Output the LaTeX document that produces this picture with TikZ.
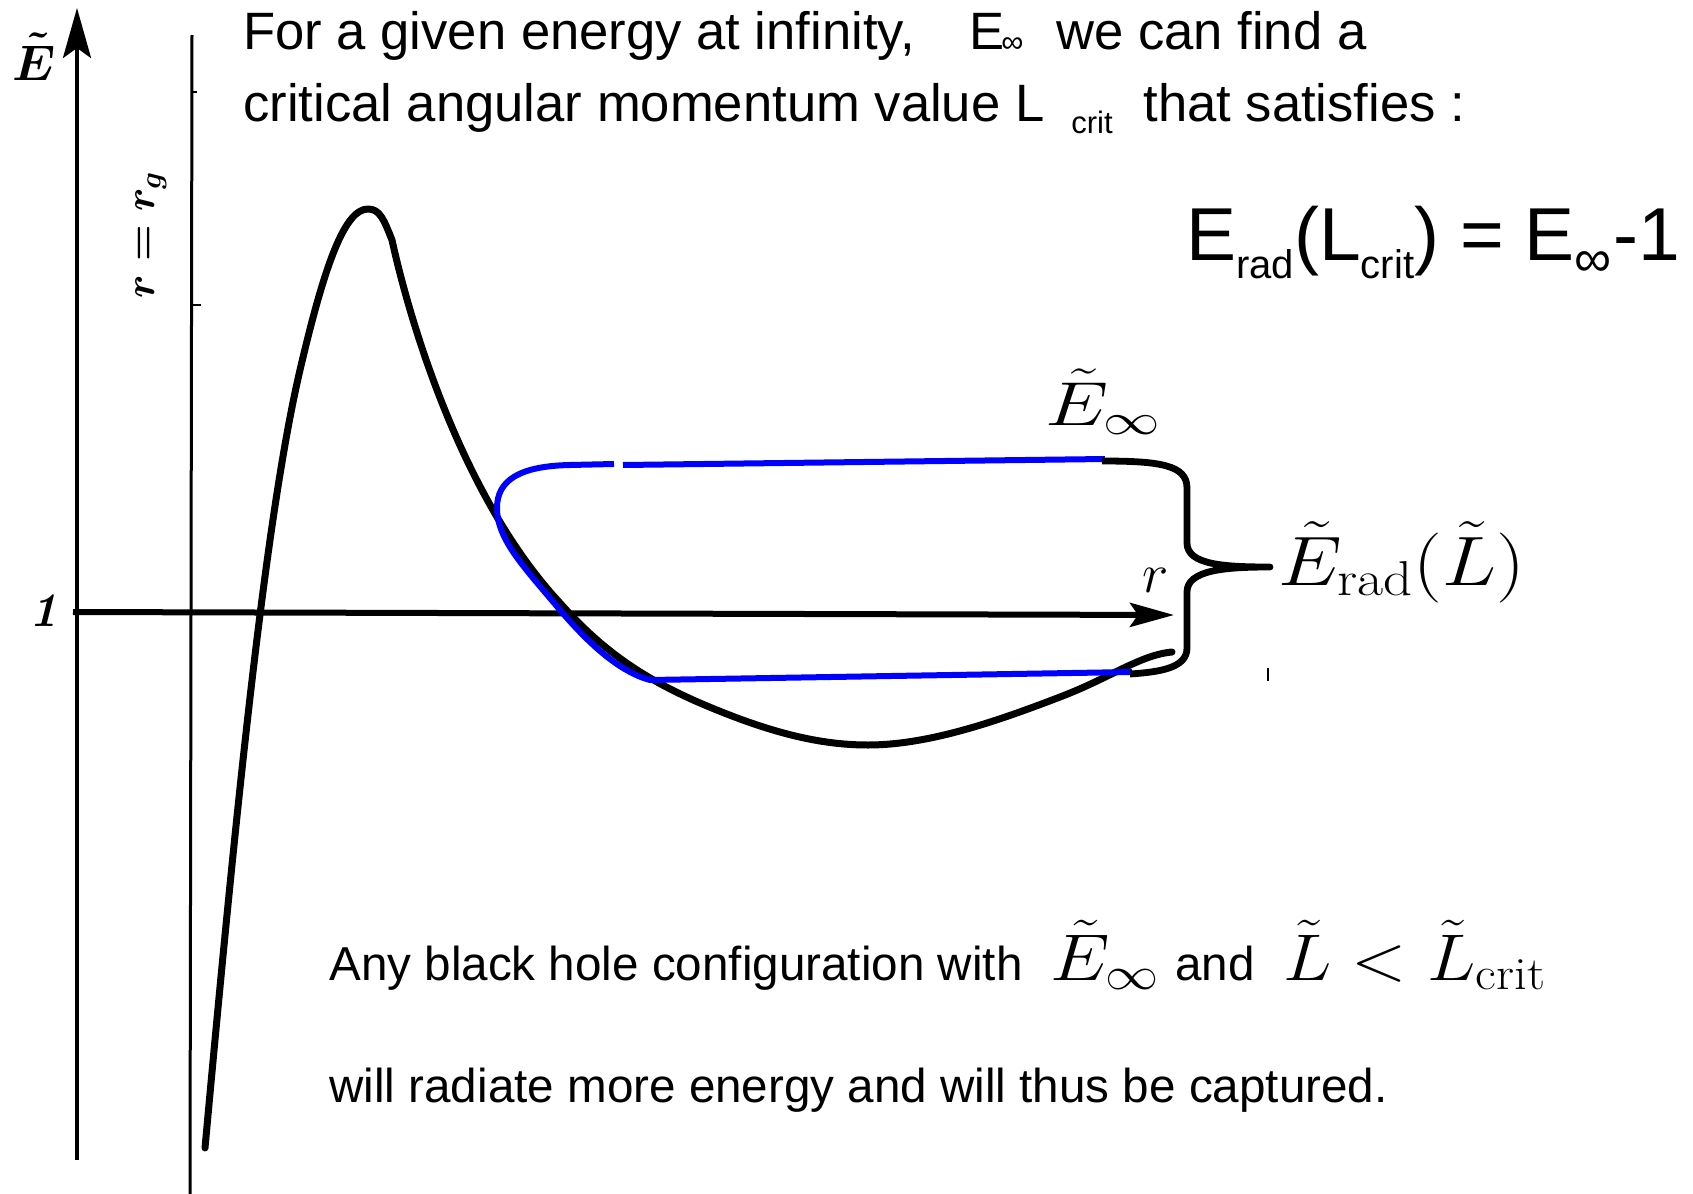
\RequirePackage{fix-cm}
\documentclass[tikz,border=0pt]{standalone}
\usepackage{amsmath}
\usepackage{fontspec}
\usepackage{graphicx}
\newfontfamily\hv{Liberation Sans}
\usetikzlibrary{arrows.meta}
\definecolor{curveblue}{RGB}{0,0,255}
\newcommand{\lowsub}[3]{\raisebox{-#1}{\fontsize{#2}{#2}\selectfont #3}}
\begin{document}
\begin{tikzpicture}[x=0.5pt,y=-0.5pt,
  txt/.style={inner sep=0pt, anchor=base west},
  toptxt/.style={txt, font=\hv\fontsize{26.3pt}{30pt}\selectfont},
  topsub/.style={txt, font=\hv\fontsize{15.5pt}{18pt}\selectfont},
  bottxt/.style={txt, font=\hv\fontsize{23.8pt}{28pt}\selectfont},
  mathtxt/.style={txt, font=\fontsize{33pt}{38pt}\selectfont},
  hand/.style={inner sep=0pt},
  potential/.style={line width=3.5pt, line join=round, line cap=round},
  orbit/.style={line width=3pt, draw=curveblue, line join=round},
  bracepath/.style={line width=3.4pt, line join=round},
  axisline/.style={line width=2pt},
]
\useasboundingbox[fill=white] (0,0) rectangle (1693,1194);

% axes
\coordinate (ybot) at (77,1160);
\coordinate (ytop) at (77,8);
\coordinate (xleft) at (73,612);
\coordinate (xright) at (1174,615);
\coordinate (rgtop) at (192,35);
\coordinate (rgbot) at (190,1194);
\draw[axisline, -{Stealth[length=25pt,width=14pt,inset=5pt]}] (ybot) -- (ytop);
\draw[line width=1.5pt] (rgtop) -- (rgbot);
\draw[line width=1pt] (192,92) -- (197,92);
\draw[line width=1pt] (192,305) -- (201,305);
\draw[line width=3pt, -{Stealth[length=22pt,width=12pt,inset=4pt]}] (xleft) -- (xright);

% axis labels
\node[hand, anchor=base west, font=\fontsize{25pt}{28pt}\selectfont\boldmath] (Elab) at (12,80) {$\tilde{E}$};
\node[hand, rotate=90, font=\fontsize{21pt}{24pt}\selectfont\boldmath] (rg) at (151,235) {$r=r_g$};
\node[hand, font=\fontsize{24pt}{30pt}\selectfont\bfseries] (one) at (44,611) {\textit{1}};
\node[hand, font=\fontsize{28pt}{32pt}\selectfont] (rlab) at (1156,580) {$r$};

% potential curve
\draw[potential] (205,1148) .. controls (235,820) and (265,520) .. (300,370)
  .. controls (325,263) and (345,209) .. (368,209)
  .. controls (380,209) and (384,220) .. (392,240)
  .. controls (405,300) and (455,490) .. (560,603)
  .. controls (600,648) and (640,677) .. (700,703)
  .. controls (770,733) and (820,745) .. (868,745)
  .. controls (930,745) and (1000,720) .. (1060,697)
  .. controls (1110,678) and (1140,655) .. (1172,652);

% blue orbit
\draw[orbit] (1105,459) -- (623,465);
\draw[orbit] (614,464) -- (570,465) .. controls (520,466) and (497,480) .. (497,508)
  .. controls (497,540) and (525,568) .. (560,610)
  .. controls (590,645) and (620,672) .. (650,680) -- (1132,672);

% brace
\coordinate (bt) at (1102,461);
\coordinate (bb) at (1130,674);
\coordinate (btip) at (1270,567);
\draw[bracepath] (bt) .. controls (1160,461) and (1187,465) .. (1187,488) -- (1187,543)
  .. controls (1187,565) and (1225,567) .. (btip)
  .. controls (1225,567) and (1187,570) .. (1187,592) -- (1187,648)
  .. controls (1187,668) and (1160,672) .. (bb);
\draw[line width=0.6pt] (1268,668) -- (1268,681);

% labels on the plot
\node[txt, font=\fontsize{31pt}{36pt}\selectfont] (Einf) at (1045,425) {\scalebox{1.3}[1]{$\tilde{E}_\infty$}};
\node[txt, font=\fontsize{35pt}{40pt}\selectfont] (Erad) at (1278,585) {\scalebox{1.16}[1]{$\tilde{E}_{\mathrm{rad}}(\tilde{L})$}};

% top text
\node[toptxt] (t1a) at (243,49) {For a given energy at infinity,};
\node[toptxt] (t1b) at (969,49) {E};
\node[topsub] (t1c) at (1001,52) {∞};
\node[toptxt] (t1d) at (1056,49) {we can find a};
\node[toptxt] (t2a) at (243,121) {critical angular momentum value L};
\node[topsub] (t2b) at (1071,133) {crit};
\node[toptxt] (t2c) at (1143,121) {that satisfies :};

% formula
\node[txt, font=\hv\fontsize{37.5pt}{44pt}\selectfont] (formula) at (1186,260)
  {E\lowsub{9pt}{20pt}{rad}(L\lowsub{9pt}{20pt}{crit}) = E\lowsub{8pt}{26pt}{∞}\hspace{1pt}-1};

% bottom text
\node[bottxt] (b1a) at (329,980) {Any black hole configuration with};
\node[mathtxt] (b1b) at (1050,980) {\scalebox{1.15}[1]{$\tilde{E}_\infty$}};
\node[bottxt] (b1c) at (1175,980) {and};
\node[mathtxt] (b1d) at (1283,980) {\scalebox{1.1}[1]{$\tilde{L}<\tilde{L}_{\mathrm{crit}}$}};
\node[bottxt] (b2) at (329,1102) {will radiate more energy and will thus be captured.};
\end{tikzpicture}
\end{document}
